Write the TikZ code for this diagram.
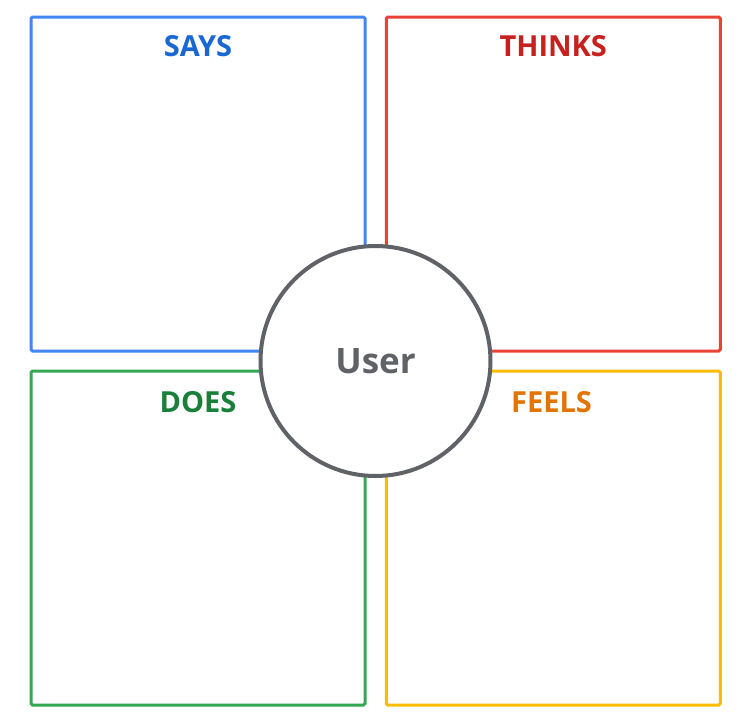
\documentclass[tikz,border=0pt]{standalone}
\usepackage{fontspec}
\setmainfont{Open Sans}
\definecolor{gblue}{HTML}{4285F4}
\definecolor{gred}{HTML}{EA4335}
\definecolor{ggreen}{HTML}{34A853}
\definecolor{gyellow}{HTML}{FBBC04}
\definecolor{tblue}{HTML}{1967D2}
\definecolor{tred}{HTML}{C5221F}
\definecolor{tgreen}{HTML}{188038}
\definecolor{torange}{HTML}{E37400}
\definecolor{ggray}{HTML}{5F6368}
\begin{document}
\begin{tikzpicture}[x=1pt,y=1pt,
  quad/.style={draw=#1, line width=3pt, rounded corners=1.5pt, minimum width=334pt, minimum height=334pt, inner sep=0pt},
  qlabel/.style={text=#1, font=\fontsize{29}{33}\selectfont\bfseries, inner sep=0pt},
  usercircle/.style={circle, draw=ggray, fill=white, line width=4pt, minimum size=230pt, inner sep=0pt, text=ggray, font=\fontsize{35}{40}\selectfont\bfseries}]
\useasboundingbox[fill=white] (0,0) rectangle (750,-720);
\node[quad=gblue] (says) at (198,-184) {};
\node[quad=gred] (thinks) at (553.25,-184) {};
\node[quad=ggreen] (does) at (198,-538) {};
\node[quad=gyellow] (feels) at (553.25,-538) {};
\node[qlabel=tblue] (saysl) at (198,-46.5) {SAYS};
\node[qlabel=tred] (thinksl) at (553.25,-46.5) {THINKS};
\node[qlabel=tgreen] (doesl) at (198,-402.5) {DOES};
\node[qlabel=torange] (feelsl) at (551.5,-402.5) {FEELS};
\node[usercircle] (user) at (375.5,-361) {User};
\end{tikzpicture}
\end{document}
